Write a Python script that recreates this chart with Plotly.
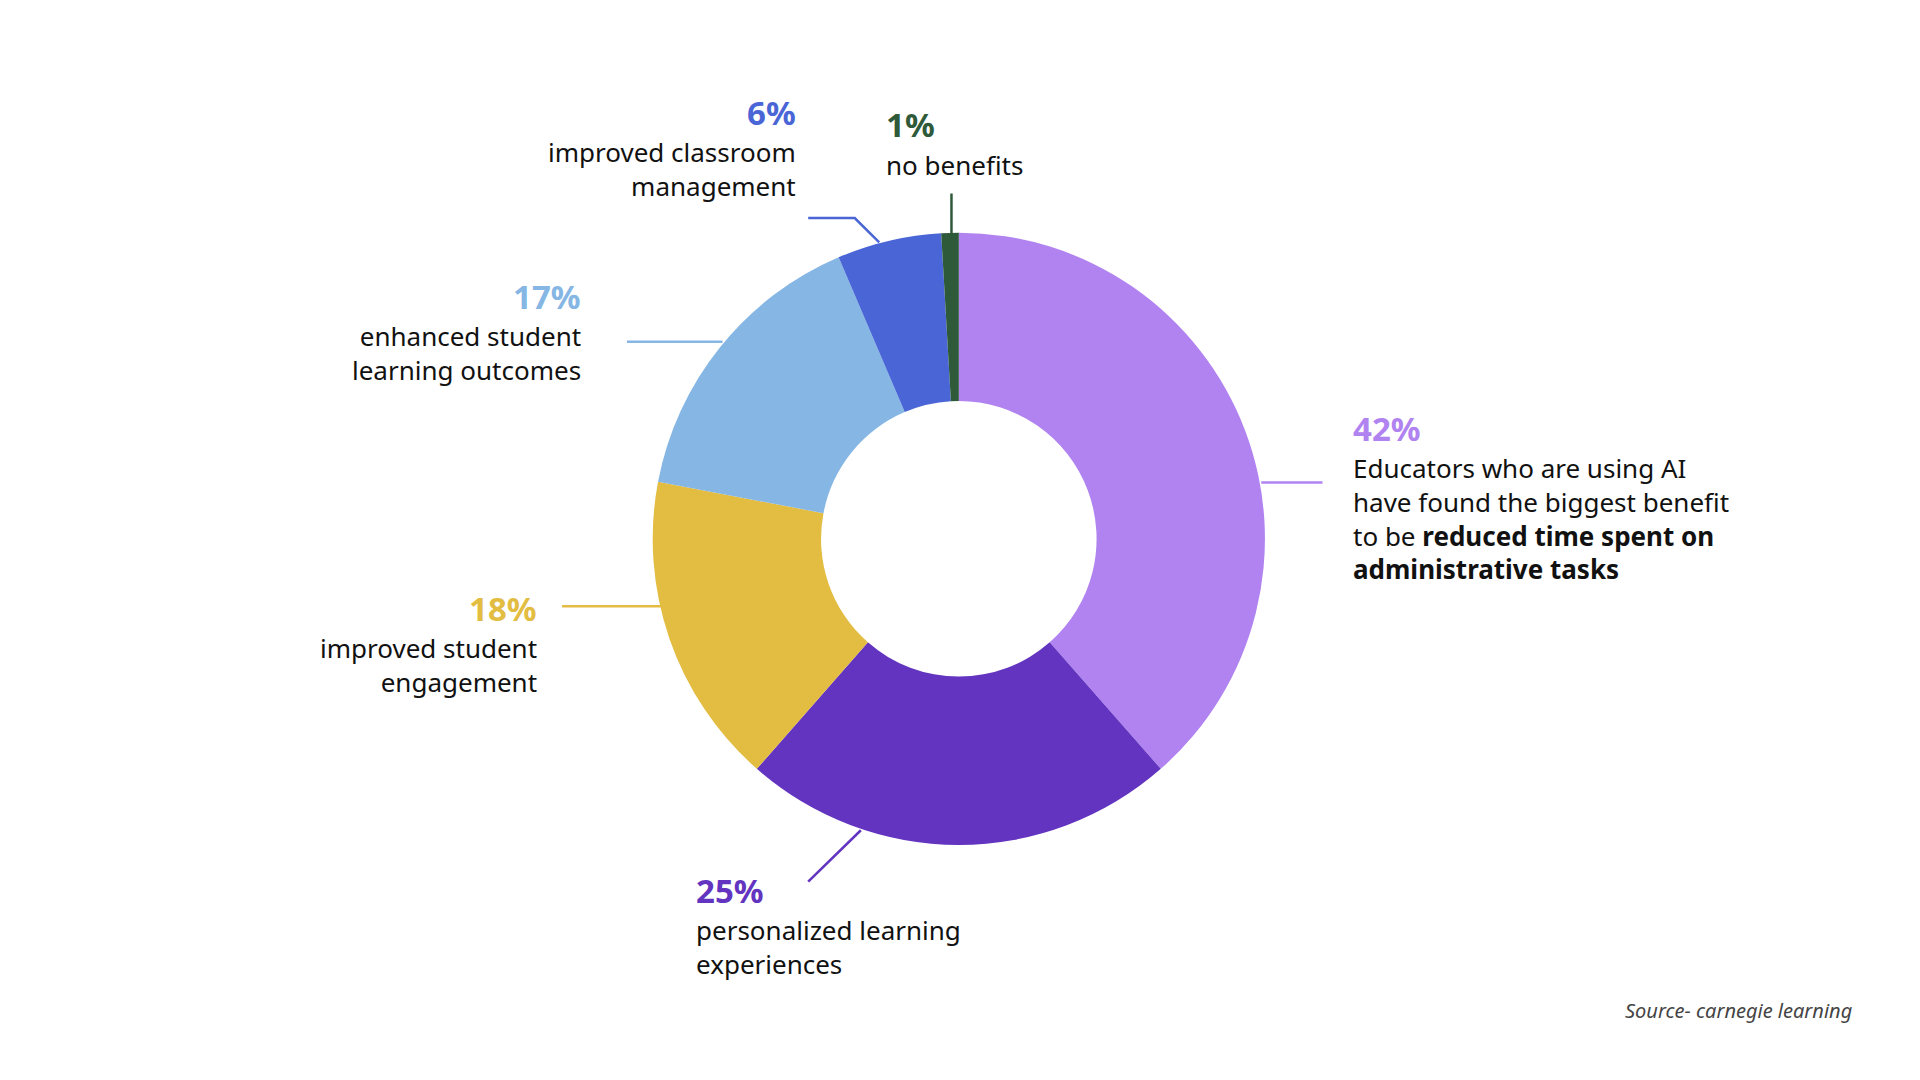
import plotly.graph_objects as go

# data
labels = ["reduced time on admin tasks", "personalized learning experiences",
          "improved student engagement", "enhanced student learning outcomes",
          "improved classroom management", "no benefits"]
values = [42, 25, 18, 17, 6, 1]
colors = ["#B083F0", "#6234C0", "#E3BC42", "#85B6E4", "#4A66D6", "#2E5A3A"]

W, H = 1568, 882  # reference pixel grid used for placement
OFF = 6.5  # page body margin compensation (ref px)
def px(x): return (x - OFF) / W
def py(y): return 1 - (y - OFF) / H

cx, cy, r = 783, 440, 250
fig = go.Figure(go.Pie(
    labels=labels, values=values, hole=0.45, sort=False, direction="clockwise",
    rotation=0, marker=dict(colors=colors), textinfo="none", hoverinfo="label+percent",
    domain=dict(x=[px(cx - r), px(cx + r)], y=[py(cy + r), py(cy - r)]), showlegend=False,
))

FONT = "Noto Sans"
body = dict(family=FONT, size=26, color="#111111")

# label blocks: (pct, body text, x, pct y, body first-line y, anchor, color)
blocks = [
    ("42%", "Educators who are using AI<br>have found the biggest benefit<br>to be <b>reduced time spent on</b><br><b>administrative tasks</b>",
     1103, 350, 382, "left", colors[0]),
    ("25%", "personalized learning<br>experiences", 567, 727, 759, "left", colors[1]),
    ("18%", "improved student<br>engagement", 440, 497, 529, "right", colors[2]),
    ("17%", "enhanced student<br>learning outcomes", 476, 242, 274, "right", colors[3]),
    ("6%", "improved classroom<br>management", 652, 92, 124, "right", colors[4]),
    ("1%", "no benefits", 722, 102, 134, "left", colors[5]),
]
for pct, txt, x, yp, yb, anchor, c in blocks:
    fig.add_annotation(x=px(x), y=py(yp), xref="paper", yref="paper", text=f"<b>{pct}</b>",
                       showarrow=False, xanchor=anchor, yanchor="middle",
                       font=dict(family=FONT, size=33, color=c))
    fig.add_annotation(x=px(x), y=py(yb - 16), xref="paper", yref="paper", text=txt,
                       showarrow=False, xanchor=anchor, yanchor="top", align=anchor, font=body)

# leader lines
leaders = [
    ([1030, 1080], [394, 394], colors[0]),
    ([660, 703], [720, 678], colors[1]),
    ([459, 540], [495, 495], colors[2]),
    ([512, 590], [279, 279], colors[3]),
    ([660, 698, 718], [178, 178, 198], colors[4]),
    ([777, 777], [158, 192], colors[5]),
]
for xs, ys, c in leaders:
    path = "M " + " L ".join(f"{px(a)},{py(b)}" for a, b in zip(xs, ys))
    fig.add_shape(type="path", path=path, xref="paper", yref="paper",
                  line=dict(color=c, width=2.5))

fig.add_annotation(x=px(1515), y=py(825), xref="paper", yref="paper",
                   text="<i>Source- carnegie learning</i>", showarrow=False,
                   xanchor="right", yanchor="middle",
                   font=dict(family=FONT, size=20, color="#444444"))

fig.update_layout(width=1920, height=1080, margin=dict(l=0, r=0, t=0, b=0),
                  paper_bgcolor="white", plot_bgcolor="white")
fig.write_html("out.html")
